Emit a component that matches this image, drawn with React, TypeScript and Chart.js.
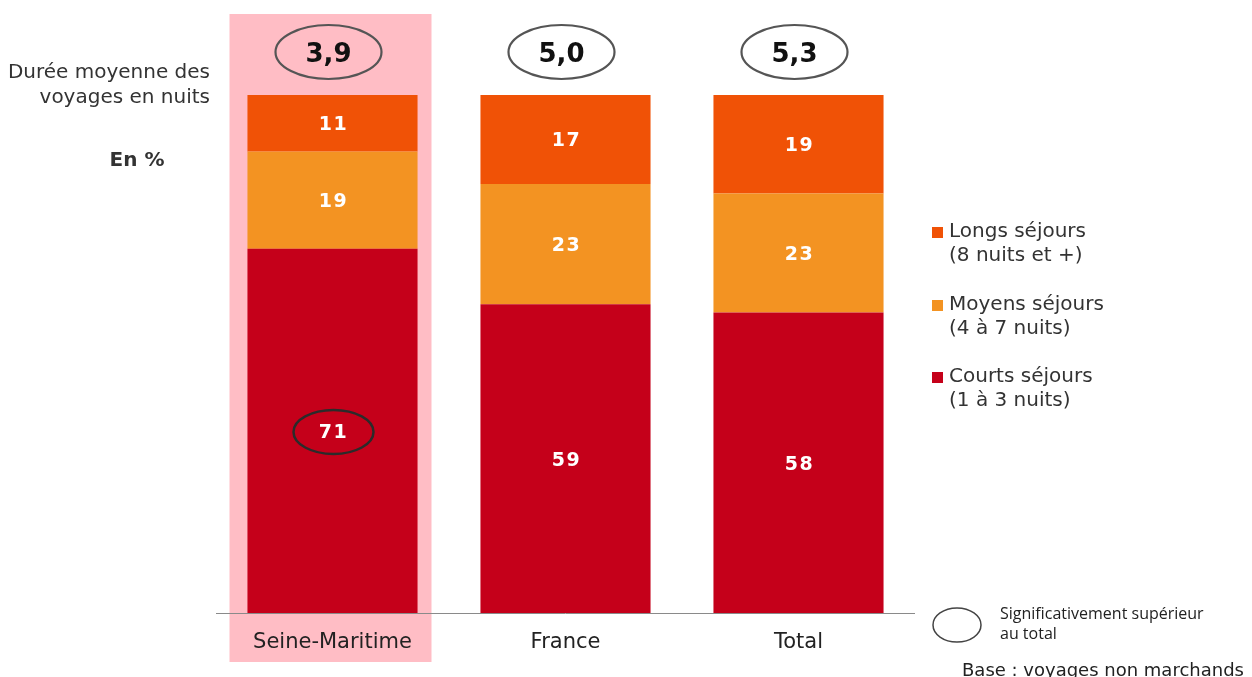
import React, { useEffect, useRef } from "react";
import { Chart, registerables } from "chart.js";
Chart.register(...registerables);

const categories = ["Seine-Maritime", "France", "Total"];
const courtsSejours = [71, 59, 58];
const moyensSejours = [19, 23, 23];
const longsSejours = [11, 17, 19];
const dureeMoyenne = ["3,9", "5,0", "5,3"];
const courtsSignificatif = [true, false, false];
const highlightIndex = 0;
const seriesNames = [
  ["Longs séjours", "(8 nuits et +)"],
  ["Moyens séjours", "(4 à 7 nuits)"],
  ["Courts séjours", "(1 à 3 nuits)"],
];
const colLongs = "#F05206";
const colMoyens = "#F39322";
const colCourts = "#C5001A";

const FONT = '"DejaVu Sans", Verdana, sans-serif';

const totals = categories.map((_, i) => courtsSejours[i] + moyensSejours[i] + longsSejours[i]);
const norm = (arr: number[]) => arr.map((v, i) => (v / totals[i]) * 100);

function ellipse(ctx: CanvasRenderingContext2D, x: number, y: number, rx: number, ry: number, color: string, lw: number) {
  ctx.save();
  ctx.beginPath();
  ctx.ellipse(x, y, rx, ry, 0, 0, Math.PI * 2);
  ctx.strokeStyle = color;
  ctx.lineWidth = lw;
  ctx.stroke();
  ctx.restore();
}

const decorPlugin = {
  id: "decor",
  beforeDatasetsDraw(chart: any) {
    const ctx = chart.ctx as CanvasRenderingContext2D;
    const xs = chart.scales.x;
    const cx = xs.getPixelForValue(highlightIndex);
    ctx.save();
    ctx.fillStyle = "#FFBDC5";
    ctx.fillRect(cx - 103, 14, 202, 648);
    ctx.restore();
  },
  afterDatasetsDraw(chart: any) {
    const ctx = chart.ctx as CanvasRenderingContext2D;
    const area = chart.chartArea;
    const xs = chart.scales.x;
    // axis line
    ctx.save();
    ctx.strokeStyle = "#8a8a8a";
    ctx.lineWidth = 1;
    ctx.beginPath();
    ctx.moveTo(area.left, area.bottom + 0.5);
    ctx.lineTo(area.right, area.bottom + 0.5);
    ctx.stroke();
    ctx.restore();

    // data labels
    const raws = [courtsSejours, moyensSejours, longsSejours];
    chart.data.datasets.forEach((ds: any, di: number) => {
      const meta = chart.getDatasetMeta(di);
      meta.data.forEach((bar: any, i: number) => {
        const yMid = (bar.y + bar.base) / 2 + 2;
        ctx.save();
        ctx.fillStyle = "#ffffff";
        ctx.font = `bold 19px ${FONT}`;
        (ctx as any).letterSpacing = "1.5px";
        ctx.textAlign = "center";
        ctx.textBaseline = "middle";
        ctx.fillText(String(raws[di][i]), bar.x + 1, yMid);
        ctx.restore();
        if (di === 0 && courtsSignificatif[i]) {
          ellipse(ctx, bar.x + 1, yMid - 1, 40, 22, "#2b2b2b", 2.5);
        }
      });
    });

    // top ellipses with average duration
    categories.forEach((_, i) => {
      const x = xs.getPixelForValue(i);
      ellipse(ctx, x - 4, area.top - 43, 53, 27, "#555555", 2.2);
      ctx.save();
      ctx.fillStyle = "#111";
      ctx.font = `bold 26px ${FONT}`;
      ctx.textAlign = "center";
      ctx.textBaseline = "middle";
      ctx.fillText(dureeMoyenne[i], x - 4, area.top - 40);
      ctx.restore();
    });

    // category labels
    categories.forEach((c, i) => {
      const x = xs.getPixelForValue(i);
      ctx.save();
      ctx.fillStyle = "#222";
      ctx.font = `21px ${FONT}`;
      ctx.textAlign = "center";
      ctx.textBaseline = "middle";
      ctx.fillText(c, x, area.bottom + 30);
      ctx.restore();
    });

    // left texts
    ctx.save();
    ctx.fillStyle = "#333";
    ctx.font = `20px ${FONT}`;
    ctx.textAlign = "right";
    ctx.textBaseline = "middle";
    ctx.fillText("Durée moyenne des", 210, 73);
    ctx.fillText("voyages en nuits", 210, 98);
    ctx.font = `bold 20px ${FONT}`;
    ctx.textAlign = "center";
    ctx.fillText("En %", 137, 161);
    ctx.restore();

    // legend
    const legendCols = [colLongs, colMoyens, colCourts];
    const legendY = [232, 305, 377];
    legendCols.forEach((col, k) => {
      ctx.save();
      ctx.fillStyle = col;
      ctx.fillRect(932, legendY[k] - 5, 11, 11);
      ctx.fillStyle = "#333";
      ctx.font = `20px ${FONT}`;
      ctx.textAlign = "left";
      ctx.textBaseline = "middle";
      ctx.fillText(seriesNames[k][0], 949, legendY[k]);
      ctx.fillText(seriesNames[k][1], 949, legendY[k] + 24);
      ctx.restore();
    });

    // significance note
    ellipse(ctx, 957, 625, 24, 17, "#444", 1.5);
    ctx.save();
    ctx.fillStyle = "#222";
    ctx.font = `16px "Open Sans", sans-serif`;
    ctx.textAlign = "left";
    ctx.textBaseline = "middle";
    ctx.fillText("Significativement supérieur", 1000, 614);
    ctx.fillText("au total", 1000, 634);
    ctx.font = `18px ${FONT}`;
    ctx.fillText("Base : voyages non marchands", 962, 671);
    ctx.restore();
  },
};

export default function App() {
  const ref = useRef<HTMLCanvasElement>(null);
  useEffect(() => {
    if (!ref.current) return;
    const chart = new Chart(ref.current, {
      type: "bar",
      data: {
        labels: categories,
        datasets: [
          { label: seriesNames[2][0], data: norm(courtsSejours), backgroundColor: colCourts },
          { label: seriesNames[1][0], data: norm(moyensSejours), backgroundColor: colMoyens },
          { label: seriesNames[0][0], data: norm(longsSejours), backgroundColor: colLongs },
        ],
      },
      options: {
        responsive: false,
        animation: false,
        devicePixelRatio: 1,
        layout: { padding: { left: 216, right: 337, top: 95, bottom: 64 } },
        datasets: { bar: { categoryPercentage: 1, barPercentage: 0.73 } } as any,
        plugins: { legend: { display: false }, tooltip: { enabled: false }, title: { display: false } },
        scales: {
          x: { stacked: true, display: false },
          y: { stacked: true, display: false, min: 0, max: 100 },
        },
      },
      plugins: [decorPlugin],
    });
    return () => chart.destroy();
  }, []);
  return (
    <div style={{ position: "absolute", left: 0, top: 0, width: 1252, height: 677, background: "#fff" }}>
      <canvas ref={ref} width={1252} height={677} style={{ display: "block" }} />
    </div>
  );
}
